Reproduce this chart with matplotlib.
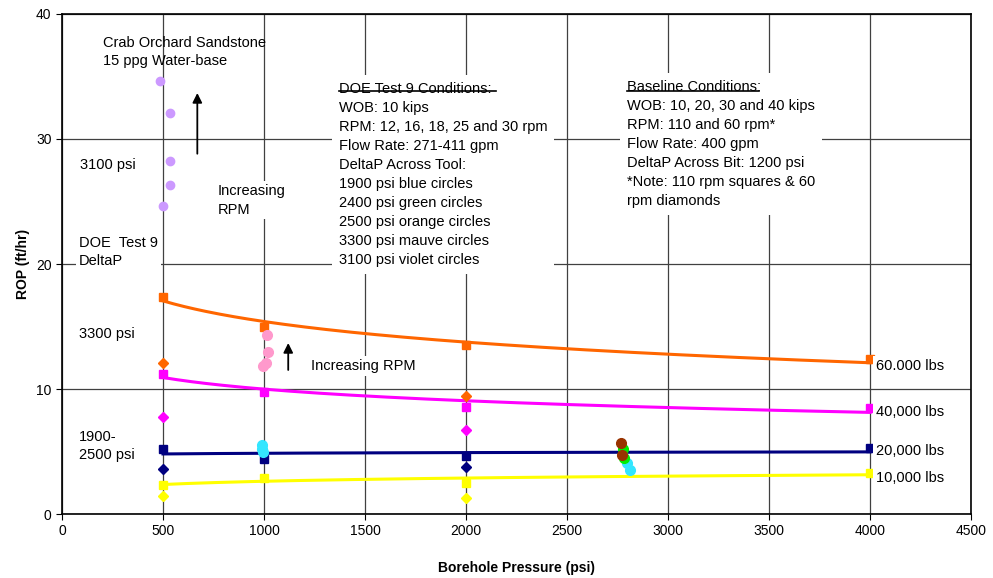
import numpy as np
import matplotlib
matplotlib.use("Agg")
import matplotlib.pyplot as plt

plt.rcParams['font.family'] = ['Liberation Sans', 'DejaVu Sans']

# baseline bit runs, 110 rpm squares (psi, ft/hr)
sq_x = [500, 1000, 2000, 4000]
sq_60k = [17.4, 15.0, 13.5, 12.4]
sq_40k = [11.2, 9.8, 8.6, 8.5]
sq_20k = [5.2, 4.4, 4.65, 5.3]
sq_10k = [2.3, 2.9, 2.5, 3.3]

# baseline 60 rpm diamonds
dm_x = [500, 2000]
dm_60k = [12.1, 9.45]
dm_40k = [7.8, 6.7]
dm_20k = [3.6, 3.75]
dm_10k = [1.45, 1.3]

# DOE Test 9 circles
violet_x = [485, 535, 535, 535, 500]
violet_y = [34.6, 32.1, 28.2, 26.3, 24.6]
mauve_x = [1015, 1020, 1010, 995]
mauve_y = [14.3, 13.0, 12.1, 11.85]
blue_x = [990, 990, 995, 2797, 2812]
blue_y = [5.5, 5.2, 4.95, 4.1, 3.5]
green_x = [2777, 2780]
green_y = [5.2, 4.5]
orange_x = [2767, 2772]
orange_y = [5.7, 4.7]

wob_labels = ['60.000 lbs', '40,000 lbs', '20,000 lbs', '10,000 lbs']
wob_colors = ['#ff6600', '#ff00ff', '#000080', '#ffff00']

fig = plt.figure(figsize=(9.93, 5.78), dpi=100)
ax = fig.add_axes([0.0624, 0.1107, 0.9155, 0.8651])
ax.set_xlim(0, 4500)
ax.set_ylim(0, 40)
ax.set_xticks(np.arange(0, 4501, 500))
ax.set_yticks(np.arange(0, 41, 10))
ax.grid(True, color='#404040', linewidth=0.9)
ax.set_axisbelow(True)
ax.tick_params(labelsize=10, length=4, width=0.8, colors='black')
for s in ax.spines.values():
    s.set_linewidth(1.2)
ax.set_xlabel('Borehole Pressure (psi)', fontsize=10, fontweight='bold', labelpad=16)
ax.set_ylabel('ROP (ft/hr)', fontsize=10, fontweight='bold', labelpad=4)

# log trend lines through the square points
xf = np.linspace(500, 4000, 200)
for ys, c in zip([sq_60k, sq_40k, sq_20k, sq_10k], wob_colors):
    b, a = np.polyfit(np.log(sq_x), ys, 1)
    ax.plot(xf, a + b * np.log(xf), color=c, linewidth=2.2, zorder=3)
    ax.plot(sq_x, ys, 's', color=c, markersize=6, zorder=4)

for ys, c in zip([dm_60k, dm_40k, dm_20k, dm_10k], wob_colors):
    ax.plot(dm_x, ys, 'D', color=c, markersize=5, zorder=4)

ax.plot(violet_x, violet_y, 'o', color='#cc99ff', markersize=6, zorder=4)
ax.plot(mauve_x, mauve_y, 'o', color='#ff99cc', markersize=7, zorder=4)
ax.plot(blue_x, blue_y, 'o', color='#33e6ff', markersize=7, zorder=4)
ax.plot(green_x, green_y, 'o', color='#00ee00', markersize=7, zorder=4)
ax.plot(orange_x, orange_y, 'o', color='#993300', markersize=7, zorder=5)

box = dict(facecolor='white', edgecolor='none', pad=2)
fs = 10.5
ls = 1.45
ax.text(205, 36.96, 'Crab Orchard Sandstone\n15 ppg Water-base', fontsize=fs,
        va='center', ha='left', linespacing=ls, zorder=6)
ax.text(90, 27.9, '3100 psi', fontsize=fs, va='center', bbox=box, zorder=6)
ax.text(770, 25.1, 'Increasing\nRPM', fontsize=fs, va='center', linespacing=ls,
        bbox=box, zorder=6)
ax.text(85, 20.96, 'DOE  Test 9\nDeltaP', fontsize=fs, va='center', linespacing=ls,
        bbox=box, zorder=6)
ax.text(85, 14.4, '3300 psi', fontsize=fs, va='center', bbox=box, zorder=6)
ax.text(1235, 11.84, 'Increasing RPM', fontsize=fs, va='center', bbox=box, zorder=6)
ax.text(85, 5.44, '1900-\n2500 psi', fontsize=fs, va='center', linespacing=ls,
        bbox=box, zorder=6)

doe = ['DOE Test 9 Conditions:', 'WOB: 10 kips', 'RPM: 12, 16, 18, 25 and 30 rpm',
       'Flow Rate: 271-411 gpm', 'DeltaP Across Tool:', '1900 psi blue circles',
       '2400 psi green circles', '2500 psi orange circles', '3300 psi mauve circles',
       '3100 psi violet circles']
ax.text(1370, 27.16, '\n'.join(doe), fontsize=fs, va='center', ha='left',
        linespacing=ls, bbox=dict(facecolor='white', edgecolor='none', pad=5), zorder=6)
ax.plot([1370, 2150], [33.8, 33.8], color='black', linewidth=1.2, zorder=7)

base = ['Baseline Conditions:', 'WOB: 10, 20, 30 and 40 kips', 'RPM: 110 and 60 rpm*',
        'Flow Rate: 400 gpm', 'DeltaP Across Bit: 1200 psi',
        '*Note: 110 rpm squares & 60', 'rpm diamonds']
ax.text(2795, 29.6, '\n'.join(base), fontsize=fs, va='center', ha='left',
        linespacing=ls, bbox=dict(facecolor='white', edgecolor='none', pad=5), zorder=6)
ax.plot([2795, 3450], [33.8, 33.8], color='black', linewidth=1.2, zorder=7)

for lab, yv in zip(wob_labels, [11.84, 8.16, 5.04, 2.88]):
    ax.text(4030, yv, lab, fontsize=fs, va='center', ha='left', bbox=box, zorder=6)

ax.annotate('', xy=(670, 33.9), xytext=(670, 28.6),
            arrowprops=dict(arrowstyle='-|>', color='black', lw=1.3, mutation_scale=14))
ax.annotate('', xy=(1120, 13.9), xytext=(1120, 11.3),
            arrowprops=dict(arrowstyle='-|>', color='black', lw=1.3, mutation_scale=14))

fig.savefig('out.png', dpi=100)
